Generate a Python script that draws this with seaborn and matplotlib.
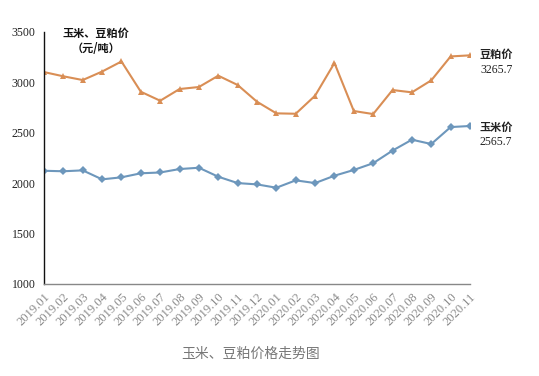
import matplotlib
matplotlib.use("Agg")
import matplotlib.pyplot as plt
import seaborn as sns
import pandas as pd

months = ["2019.01", "2019.02", "2019.03", "2019.04", "2019.05", "2019.06",
          "2019.07", "2019.08", "2019.09", "2019.10", "2019.11", "2019.12",
          "2020.01", "2020.02", "2020.03", "2020.04", "2020.05", "2020.06",
          "2020.07", "2020.08", "2020.09", "2020.10", "2020.11"]
soymeal = [3100, 3058, 3021, 3105, 3205, 2905, 2816, 2932, 2952, 3064, 2972, 2806,
           2691, 2687, 2866, 3190, 2714, 2684, 2922, 2899, 3018, 3255, 3265.7]
corn = [2122, 2117, 2126, 2037, 2057, 2097, 2105, 2139, 2152, 2063, 2000, 1987,
        1954, 2027, 2000, 2073, 2130, 2197, 2322, 2430, 2387, 2555, 2565.7]
yticks = [1000, 1500, 2000, 2500, 3000, 3500]

sns.set_style("white")
plt.rcParams['font.family'] = ['Noto Sans CJK SC', 'DejaVu Sans']

df = pd.DataFrame({"idx": list(range(len(months))) * 2,
                   "price": soymeal + corn,
                   "series": ["豆粕价"] * len(months) + ["玉米价"] * len(months)})

fig = plt.figure(figsize=(5.39, 3.76), dpi=100)
ax = fig.add_axes([44/539, 1-284/376, (470-44)/539, (284-31.7)/376])

sns.lineplot(data=df, x="idx", y="price", hue="series", style="series",
             palette={"豆粕价": "#D98E55", "玉米价": "#6D97BC"},
             markers={"豆粕价": "^", "玉米价": "D"}, dashes=False,
             markersize=4.5, linewidth=1.5, markeredgewidth=0, legend=False, ax=ax)
for line in ax.get_lines():
    if line.get_marker() == "D":
        line.set_markersize(3.6)

ax.set_xlim(0, len(months) - 1)
ax.set_ylim(1000, 3500)
ax.set_yticks(yticks)
ax.set_yticklabels([str(v) for v in yticks], fontfamily="Liberation Serif",
                   fontsize=8.5, color="#222222")
ax.set_xticks(range(len(months)))
ax.set_xticklabels(months, rotation=45, ha="right", rotation_mode="anchor",
                   fontfamily="Liberation Serif", fontsize=9, color="#8a8a8a")
ax.set_xlabel("")
ax.set_ylabel("")
for s in ["top", "right"]:
    ax.spines[s].set_visible(False)
ax.spines["left"].set_color("#111111")
ax.spines["left"].set_linewidth(1.0)
ax.spines["bottom"].set_color("#888888")
ax.spines["bottom"].set_linewidth(1.0)
ax.tick_params(axis="y", direction="out", length=3, width=0.8, color="#111111", pad=3)
ax.tick_params(axis="x", direction="out", length=3, width=0.8, color="#888888", pad=2)

def fx(px):
    return px / 539
def fy(py):
    return 1 - py / 376

fig.text(fx(96), fy(33), "玉米、豆粕价", ha="center", va="center",
         fontsize=8, fontweight="bold", color="#111111")
fig.text(fx(96), fy(48), "（元/吨）", ha="center", va="center",
         fontsize=8, fontweight="bold", color="#111111")
fig.text(fx(480), fy(54), "豆粕价", ha="left", va="center",
         fontsize=8, fontweight="bold", color="#222222")
fig.text(fx(480), fy(70), "3265.7", ha="left", va="center",
         fontsize=8.5, fontfamily="Liberation Serif", color="#222222")
fig.text(fx(480), fy(127), "玉米价", ha="left", va="center",
         fontsize=8, fontweight="bold", color="#222222")
fig.text(fx(480), fy(142), "2565.7", ha="left", va="center",
         fontsize=8.5, fontfamily="Liberation Serif", color="#222222")
fig.text(fx(251), fy(354), "玉米、豆粕价格走势图", ha="center", va="center",
         fontsize=10, color="#777777")

fig.savefig("out.png", dpi=100)
